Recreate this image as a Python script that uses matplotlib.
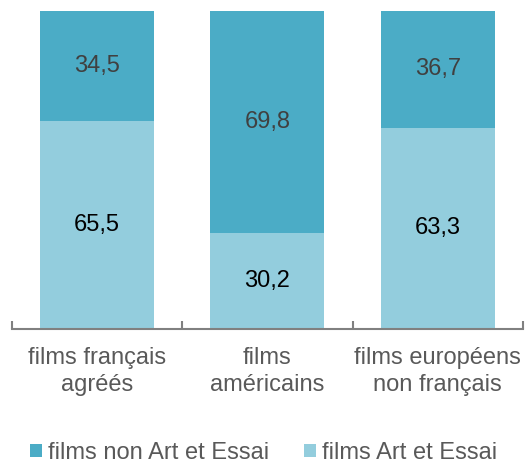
import matplotlib
matplotlib.use("Agg")
import matplotlib.pyplot as plt
from matplotlib.patches import Patch

categories = ["films français\nagréés", "films\naméricains", "films européens\nnon français"]
art_essai = [65.5, 30.2, 63.3]
non_art_essai = [34.5, 69.8, 36.7]
series_names = ["films non Art et Essai", "films Art et Essai"]

dark = "#4BACC6"
light = "#93CDDD"

plt.rcParams['font.family'] = ['Liberation Sans', 'DejaVu Sans']

fig = plt.figure(figsize=(5.27, 4.65), dpi=100)
ax = fig.add_axes([11.5/527, 1-329/465, 511.5/527, 318/465])

x = list(range(len(categories)))
w = 0.67
ax.bar(x, art_essai, width=w, color=light, edgecolor='none')
ax.bar(x, non_art_essai, width=w, bottom=art_essai, color=dark, edgecolor='none')

for i in x:
    ax.text(i, art_essai[i]/2, f"{art_essai[i]:.1f}".replace('.', ','),
            ha='center', va='center', fontsize=17, color='#000000')
    ax.text(i, art_essai[i] + non_art_essai[i]/2, f"{non_art_essai[i]:.1f}".replace('.', ','),
            ha='center', va='center', fontsize=17, color='#404040')

ax.set_xlim(-0.5, len(categories) - 0.5)
ax.set_ylim(0, 100)
ax.set_yticks([])
for s in ['left', 'right', 'top']:
    ax.spines[s].set_visible(False)
ax.spines['bottom'].set_color('#808080')
ax.spines['bottom'].set_linewidth(1.5)

ax.set_xticks(x)
ax.set_xticklabels(categories, fontsize=17, color='#595959', linespacing=1.3)
ax.tick_params(axis='x', which='major', length=0, pad=13)
ax.set_xticks([i - 0.5 for i in range(len(categories) + 1)], minor=True)
ax.tick_params(axis='x', which='minor', direction='in', length=6, width=1.5, color='#808080')

handles = [Patch(facecolor=dark, edgecolor='none'), Patch(facecolor=light, edgecolor='none')]
fig.legend(handles, series_names, loc='center', bbox_to_anchor=(263.5/527, 1-453/465),
           ncol=2, frameon=False, fontsize=17, labelcolor='#595959',
           handlelength=0.5, handleheight=0.5, handletextpad=0.25, columnspacing=1.5,
           borderpad=0, borderaxespad=0)

fig.savefig("out.png", dpi=100)
